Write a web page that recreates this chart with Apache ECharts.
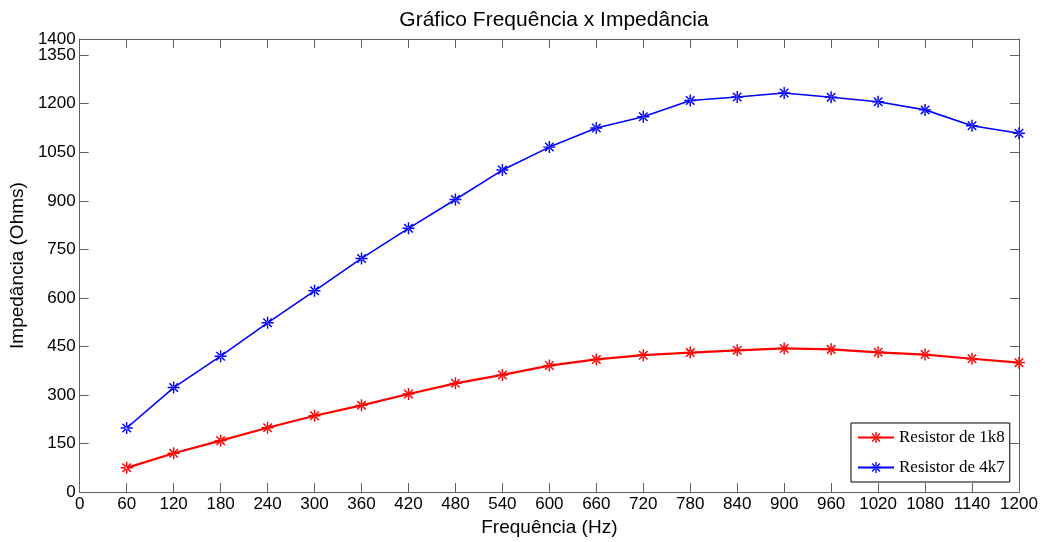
<!doctype html>
<html>
<head>
<meta charset="utf-8">
<script src="https://cdn.jsdelivr.net/npm/echarts@6/dist/echarts.min.js"></script>
</head>
<body style="margin:0;background:#fff;">
<div id="main" style="width:1045px;height:542px;"></div>
<script type="text/javascript">
// frequencias (Hz)
var freq = [60, 120, 180, 240, 300, 360, 420, 480, 540, 600, 660, 720, 780, 840, 900, 960, 1020, 1080, 1140, 1200];
// impedancia medida (Ohms)
var r1k8 = [75, 120, 159, 199, 236, 268, 303, 336, 362, 391, 410, 423, 431, 438, 444, 441, 432, 425, 412, 400];
var r4k7 = [198, 323, 420, 523, 622, 722, 815, 904, 995, 1066, 1125, 1160, 1210, 1221, 1233, 1220, 1206, 1181, 1132, 1109];
var seriesNames = ['Resistor de 1k8', 'Resistor de 4k7'];

// asterisco tipo matlab
var star = 'path://M-0.6,-5 L0.6,-5 L0.6,5 L-0.6,5 Z M-5,-0.6 L5,-0.6 L5,0.6 L-5,0.6 Z ' +
  'M-3.96,-3.11 L3.11,3.96 L3.96,3.11 L-3.11,-3.96 Z M-3.11,3.96 L3.96,-3.11 L3.11,-3.96 L-3.96,3.11 Z';

var axisCol = '#606060';
var yLabelStyle = {fontFamily: 'Liberation Sans', fontSize: 17, color: '#000', margin: 4};
var myChart = echarts.init(document.getElementById('main'));

function plain(v) { return String(v); }

// eixos extras so para fechar a caixa (box on)
function boxAxis(pos, min, max, interval) {
  return {
    type: 'value', position: pos, min: min, max: max, interval: interval,
    axisLine: {show: true, onZero: false, lineStyle: {color: axisCol, width: 1}},
    axisTick: {show: true, inside: true, length: 9, lineStyle: {color: axisCol}},
    axisLabel: {show: false},
    splitLine: {show: false}
  };
}

var option = {
  animation: false,
  backgroundColor: '#fff',
  title: {
    text: 'Gráfico Frequência x Impedância',
    left: 549, top: 5, textAlign: 'center',
    textStyle: {fontFamily: 'Liberation Sans', fontSize: 21, fontWeight: 'normal', color: '#000'}
  },
  legend: {
    data: seriesNames,
    orient: 'vertical',
    left: 851, top: 423,
    padding: [6, 5, 6, 6],
    itemGap: 13,
    itemWidth: 36, itemHeight: 14,
    backgroundColor: '#fff',
    borderColor: '#000', borderWidth: 1, borderRadius: 0,
    textStyle: {fontFamily: 'Liberation Serif', fontSize: 17, color: '#000'}
  },
  grid: {left: 79, right: 26, top: 39, bottom: 47, containLabel: false},
  xAxis: [{
    type: 'value', min: 0, max: 1200, interval: 60,
    name: 'Frequência (Hz)', nameLocation: 'middle', nameGap: 20,
    nameTextStyle: {fontFamily: 'Liberation Sans', fontSize: 19, color: '#000', verticalAlign: 'top'},
    axisLine: {show: true, onZero: false, lineStyle: {color: axisCol, width: 1}},
    axisTick: {show: true, inside: true, length: 9, lineStyle: {color: axisCol}},
    axisLabel: {fontFamily: 'Liberation Sans', fontSize: 17, color: '#000', margin: 4, formatter: plain},
    splitLine: {show: false}
  }, boxAxis('top', 0, 1200, 60)],
  yAxis: [{
    type: 'value', min: 0, max: 1400, interval: 150,
    name: 'Impedância (Ohms)', nameLocation: 'middle', nameGap: 49, nameRotate: 90,
    nameTextStyle: {fontFamily: 'Liberation Sans', fontSize: 19, color: '#000'},
    axisLine: {show: true, onZero: false, lineStyle: {color: axisCol, width: 1}},
    axisTick: {show: true, inside: true, length: 9, lineStyle: {color: axisCol}},
    axisLabel: Object.assign({formatter: plain, showMaxLabel: false}, yLabelStyle),
    splitLine: {show: false}
  }, boxAxis('right', 0, 1400, 150), {
    // so o rotulo do limite superior (1400)
    type: 'value', position: 'left', min: 0, max: 1400, interval: 1400,
    axisLine: {show: false}, axisTick: {show: false}, splitLine: {show: false},
    axisLabel: Object.assign({formatter: plain, showMinLabel: false}, yLabelStyle)
  }],
  series: [{
    name: seriesNames[0], type: 'line',
    data: freq.map(function (f, i) { return [f, r1k8[i]]; }),
    symbol: star, symbolSize: 12,
    lineStyle: {color: '#ff0000', width: 2.2},
    itemStyle: {color: '#ff0000'}
  }, {
    name: seriesNames[1], type: 'line',
    data: freq.map(function (f, i) { return [f, r4k7[i]]; }),
    symbol: star, symbolSize: 12,
    lineStyle: {color: '#0000ff', width: 1.6},
    itemStyle: {color: '#0000ff'}
  }]
};

myChart.setOption(option);
</script>
</body>
</html>
